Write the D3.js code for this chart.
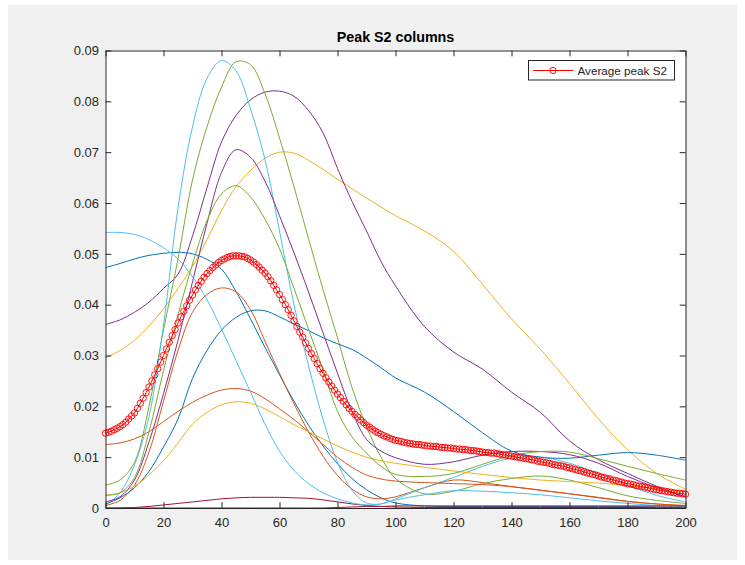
<!DOCTYPE html>
<html>
<head>
<meta charset="utf-8">
<script src="https://cdn.jsdelivr.net/npm/d3@7"></script>
<style>
  html, body { margin: 0; padding: 0; background: #ffffff; }
  svg { display: block; }
  text { font-family: "Liberation Sans", Arial, Helvetica, sans-serif; }
</style>
</head>
<body>
<svg id="chart" width="745" height="565"></svg>
<script>
// Sample positions shared by every column curve
const sampleX = [0, 5, 10, 15, 20, 25, 30, 35, 40, 45, 50, 55, 60, 65, 70, 75, 80, 85, 90, 95, 100,
                 110, 120, 130, 140, 150, 160, 170, 180, 190, 200];

// Peak S2 profile of each column
const column01 = [.0473, .0481, .0490, .0497, .0501, .0503, .0500, .0489, .0470, .0426, .0372, .0316, .0262, .0210, .0163, .0122, .0087, .0058, .0036, .0020, .0010,
                  .0004, .0003, .0003, .0003, .0003, .0003, .0003, .0003, .0002, .0002];
const column02 = [.0005, .0015, .0045, .0110, .0210, .0310, .0385, .0420, .0433, .0425, .0390, .0328, .0265, .0205, .0150, .0102, .0064, .0037, .0022, .0018, .0022,
                  .0040, .0055, .0050, .0042, .0035, .0028, .0020, .0013, .0008, .0005];
const column03 = [.0295, .0310, .0330, .0358, .0392, .0432, .0475, .0528, .0585, .0632, .0664, .0688, .0700, .0698, .0684, .0666, .0647, .0628, .0610, .0592, .0575,
                  .0545, .0505, .0440, .0372, .0312, .0245, .0175, .0115, .0068, .0037];
const column04 = [.0361, .0370, .0385, .0405, .0432, .0460, .0535, .0630, .0720, .0772, .0803, .0818, .0820, .0810, .0782, .0738, .0668, .0603, .0545, .0485, .0437,
                  .0357, .0307, .0273, .0228, .0188, .0132, .0095, .0068, .0043, .0022];
const column05 = [.0045, .0055, .0090, .0200, .0350, .0490, .0645, .0750, .0828, .0878, .0872, .0815, .0728, .0632, .0530, .0430, .0335, .0237, .0160, .0100, .0058,
                  .0028, .0033, .0048, .0058, .0063, .0055, .0040, .0024, .0015, .0009];
const column06 = [.0005, .0030, .0085, .0180, .0360, .0590, .0750, .0845, .0880, .0860, .0785, .0685, .0545, .0400, .0280, .0175, .0090, .0035, .0010, .0008, .0018,
                  .0040, .0060, .0082, .0098, .0100, .0088, .0068, .0045, .0025, .0012];
const column07 = [.0000, .0000, .0001, .0003, .0006, .0009, .0012, .0015, .0018, .0020, .0021, .0021, .0021, .0020, .0019, .0016, .0012, .0008, .0005, .0003, .0002,
                  .0001, .0001, .0001, .0001, .0001, .0001, .0001, .0001, .0001, .0001];
const column08 = [.0008, .0020, .0040, .0072, .0120, .0175, .0255, .0310, .0350, .0375, .0388, .0388, .0376, .0362, .0349, .0335, .0323, .0312, .0295, .0276, .0256,
                  .0228, .0190, .0148, .0112, .0100, .0098, .0104, .0109, .0104, .0094];
const column09 = [.0125, .0128, .0136, .0150, .0170, .0190, .0208, .0222, .0232, .0235, .0230, .0215, .0195, .0174, .0150, .0125, .0100, .0080, .0065, .0057, .0053,
                  .0050, .0048, .0046, .0042, .0035, .0028, .0021, .0013, .0008, .0004];
const column10 = [.0025, .0030, .0043, .0065, .0093, .0128, .0165, .0188, .0203, .0209, .0206, .0195, .0180, .0164, .0150, .0136, .0122, .0110, .0100, .0093, .0088,
                  .0080, .0073, .0066, .0060, .0055, .0052, .0049, .0044, .0038, .0032];
const column11 = [.0012, .0022, .0055, .0130, .0225, .0330, .0445, .0560, .0660, .0705, .0690, .0643, .0575, .0502, .0425, .0345, .0265, .0190, .0135, .0112, .0099,
                  .0086, .0091, .0104, .0111, .0111, .0105, .0088, .0062, .0040, .0022];
const column12 = [.0025, .0030, .0060, .0150, .0270, .0380, .0480, .0565, .0618, .0634, .0612, .0568, .0510, .0432, .0352, .0272, .0190, .0140, .0108, .0082, .0066,
                  .0062, .0068, .0086, .0103, .0111, .0110, .0097, .0082, .0068, .0055];
const column13 = [.0542, .0542, .0538, .0528, .0512, .0490, .0455, .0410, .0352, .0290, .0228, .0165, .0112, .0074, .0048, .0030, .0018, .0010, .0006, .0008, .0016,
                  .0026, .0034, .0033, .0030, .0026, .0020, .0014, .0009, .0005, .0003];
const column14 = [.0000, .0000, .0000, .0000, .0000, .0000, .0000, .0000, .0000, .0000, .0000, .0000, .0000, .0000, .0000, .0000, .0001, .0002, .0003, .0003, .0004,
                  .0004, .0004, .0004, .0004, .0004, .0004, .0004, .0004, .0004, .0004];

const columns = [column01, column02, column03, column04, column05, column06, column07,
                 column08, column09, column10, column11, column12, column13, column14];

// Average over all columns, one value per position 0..200
const averageX = d3.range(0, 201);
const averagePeakS2 = [
  .0147, .0149, .0151, .0154, .0157, .0160, .0164, .0169, .0175, .0181,
  .0187, .0196, .0206, .0216, .0227, .0238, .0250, .0262, .0274, .0287,
  .0300, .0313, .0326, .0339, .0351, .0364, .0376, .0387, .0398, .0409,
  .0419, .0429, .0438, .0446, .0454, .0461, .0467, .0473, .0478, .0483,
  .0487, .0490, .0493, .0495, .0496, .0496, .0496, .0495, .0494, .0491,
  .0488, .0484, .0479, .0474, .0468, .0462, .0455, .0447, .0438, .0429,
  .0420, .0410, .0400, .0390, .0379, .0368, .0357, .0346, .0336, .0325,
  .0314, .0304, .0294, .0284, .0274, .0265, .0256, .0248, .0240, .0232,
  .0224, .0217, .0210, .0203, .0196, .0190, .0184, .0179, .0173, .0168,
  .0163, .0159, .0155, .0151, .0148, .0145, .0142, .0140, .0137, .0135,
  .0133, .0132, .0131, .0129, .0128, .0127, .0126, .0125, .0125, .0124,
  .0123, .0122, .0122, .0121, .0121, .0120, .0119, .0119, .0118, .0118,
  .0117, .0116, .0116, .0115, .0115, .0114, .0113, .0113, .0112, .0111,
  .0110, .0109, .0109, .0108, .0108, .0107, .0106, .0105, .0104, .0103,
  .0102, .0101, .0100, .0099, .0098, .0097, .0096, .0095, .0094, .0092,
  .0091, .0090, .0089, .0088, .0086, .0085, .0084, .0083, .0082, .0080,
  .0079, .0077, .0076, .0074, .0073, .0071, .0069, .0068, .0066, .0065,
  .0063, .0061, .0060, .0058, .0057, .0055, .0054, .0052, .0051, .0049,
  .0048, .0047, .0046, .0044, .0043, .0042, .0041, .0040, .0038, .0037,
  .0036, .0035, .0034, .0033, .0032, .0031, .0030, .0029, .0029, .0028,
  .0027
];

const xTicks = [0, 20, 40, 60, 80, 100, 120, 140, 160, 180, 200];
const yTicks = [0, 0.01, 0.02, 0.03, 0.04, 0.05, 0.06, 0.07, 0.08, 0.09];
const yTickLabels = ["0", "0.01", "0.02", "0.03", "0.04", "0.05", "0.06", "0.07", "0.08", "0.09"];

const chartTitle = "Peak S2 columns";
const legendLabel = "Average peak S2";

// Line colour order of the plotting environment
const palette = ["#0072BD", "#D95319", "#EDB120", "#7E2F8E", "#77AC30", "#4DBEEE", "#A2142F"];

// ---- layout ----
const plot = { left: 105.5, right: 685.5, top: 50.5, bottom: 508 };
const figure = { left: 8, top: 5, right: 737, bottom: 560 };
const axisColor = "#262626";
const tickLen = 5.8;

const svg = d3.select("#chart");

// figure panel
svg.append("rect")
  .attr("x", figure.left).attr("y", figure.top)
  .attr("width", figure.right - figure.left).attr("height", figure.bottom - figure.top)
  .attr("fill", "#f0f0f0");

const x = d3.scaleLinear().domain([0, 200]).range([plot.left, plot.right]);
const y = d3.scaleLinear().domain([0, 0.09]).range([plot.bottom, plot.top]);

// axes area
svg.append("rect")
  .attr("x", plot.left).attr("y", plot.top)
  .attr("width", plot.right - plot.left).attr("height", plot.bottom - plot.top)
  .attr("fill", "#ffffff");

svg.append("clipPath").attr("id", "plot-clip")
  .append("rect")
  .attr("x", plot.left).attr("y", plot.top - 1)
  .attr("width", plot.right - plot.left + 1).attr("height", plot.bottom - plot.top + 1);

const lines = svg.append("g").attr("clip-path", "url(#plot-clip)");

const columnLine = d3.line()
  .x((d, i) => x(sampleX[i]))
  .y(d => y(d))
  .curve(d3.curveCatmullRom.alpha(0.5));

lines.selectAll("path.column")
  .data(columns)
  .join("path")
  .attr("class", "column")
  .attr("d", d => columnLine(d))
  .attr("fill", "none")
  .attr("stroke", (d, i) => palette[i % palette.length])
  .attr("stroke-width", 1);

// average curve with circle markers
const avgLine = d3.line()
  .x((d, i) => x(averageX[i]))
  .y(d => y(d));

const avgG = svg.append("g");
avgG.append("path")
  .attr("d", avgLine(averagePeakS2))
  .attr("fill", "none")
  .attr("stroke", "#ff0000")
  .attr("stroke-width", 1);

avgG.selectAll("circle")
  .data(averagePeakS2)
  .join("circle")
  .attr("cx", (d, i) => x(averageX[i]))
  .attr("cy", d => y(d))
  .attr("r", 3.2)
  .attr("fill", "none")
  .attr("stroke", "#ff0000")
  .attr("stroke-width", 0.9);

// ---- axes (ticks point inward on all four sides) ----
function styleAxis(g) {
  g.selectAll("path.domain").attr("stroke", axisColor).attr("stroke-width", 1);
  g.selectAll(".tick line").attr("stroke", axisColor).attr("stroke-width", 1);
  g.selectAll(".tick text")
    .attr("fill", axisColor)
    .style("font-size", "13px")
    .style("font-family", '"Liberation Sans", Arial, Helvetica, sans-serif');
}

svg.append("g")
  .attr("transform", `translate(0,${plot.bottom})`)
  .call(d3.axisBottom(x).tickValues(xTicks).tickFormat(d3.format("d"))
    .tickSizeInner(-tickLen).tickSizeOuter(0).tickPadding(10))
  .call(styleAxis);

svg.append("g")
  .attr("transform", `translate(0,${plot.top})`)
  .call(d3.axisTop(x).tickValues(xTicks).tickFormat("")
    .tickSizeInner(-tickLen).tickSizeOuter(0))
  .call(styleAxis);

svg.append("g")
  .attr("transform", `translate(${plot.left},0)`)
  .call(d3.axisLeft(y).tickValues(yTicks).tickFormat((d, i) => yTickLabels[i])
    .tickSizeInner(-tickLen).tickSizeOuter(0).tickPadding(6.5))
  .call(styleAxis);

svg.append("g")
  .attr("transform", `translate(${plot.right},0)`)
  .call(d3.axisRight(y).tickValues(yTicks).tickFormat("")
    .tickSizeInner(-tickLen).tickSizeOuter(0))
  .call(styleAxis);

// ---- title ----
svg.append("text")
  .attr("x", (plot.left + plot.right) / 2)
  .attr("y", 41.5)
  .attr("text-anchor", "middle")
  .style("font-size", "14.3px")
  .style("font-weight", "bold")
  .attr("fill", "#000000")
  .text(chartTitle);

// ---- legend ----
const leg = svg.append("g");
leg.append("rect")
  .attr("x", 528.5).attr("y", 60.5).attr("width", 146).attr("height", 19.5)
  .attr("fill", "#ffffff").attr("stroke", axisColor).attr("stroke-width", 1);
leg.append("line")
  .attr("x1", 533).attr("x2", 573).attr("y1", 70.5).attr("y2", 70.5)
  .attr("stroke", "#ff0000").attr("stroke-width", 1);
leg.append("circle")
  .attr("cx", 553).attr("cy", 70.5).attr("r", 3.2)
  .attr("fill", "none").attr("stroke", "#ff0000").attr("stroke-width", 0.9);
leg.append("text")
  .attr("x", 577.5).attr("y", 74.7)
  .style("font-size", "11.7px")
  .attr("fill", axisColor)
  .text(legendLabel);
</script>
</body>
</html>
